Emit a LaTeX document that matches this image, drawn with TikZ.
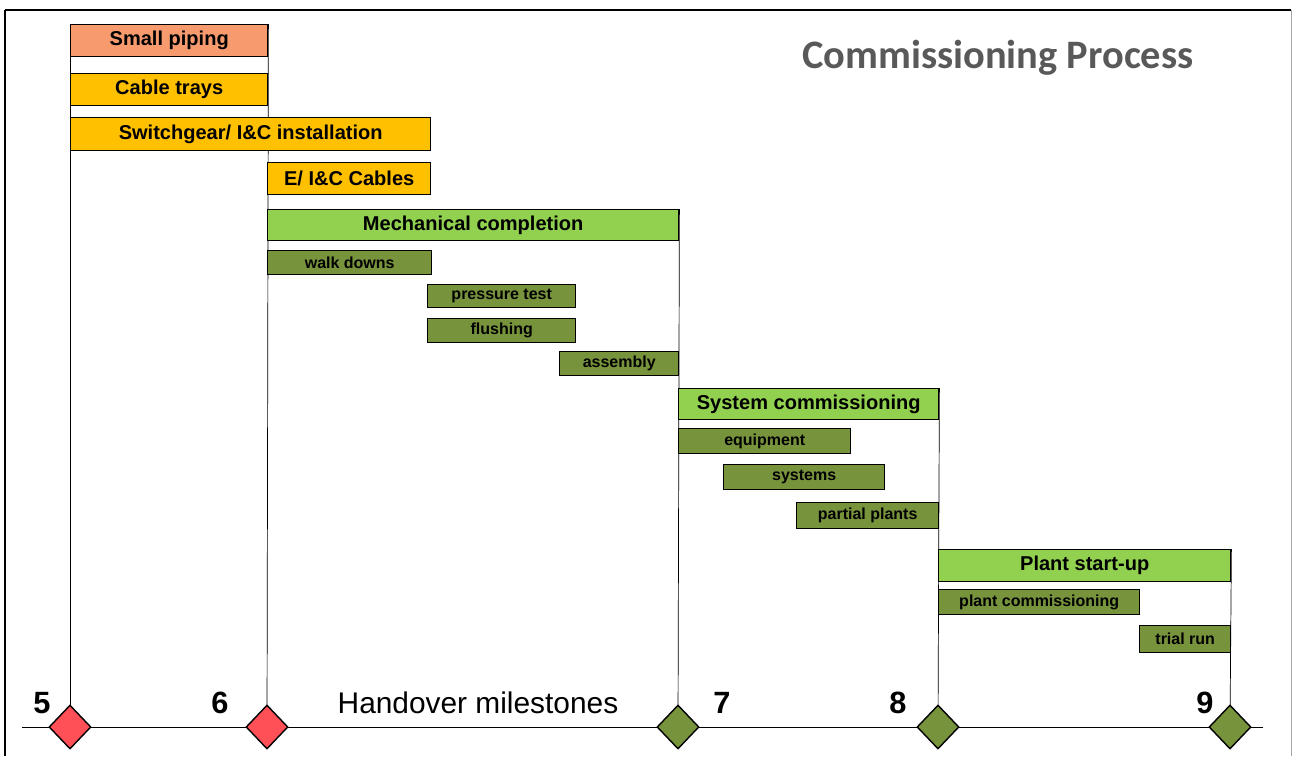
\documentclass[tikz,border=0pt]{standalone}
\usepackage{fontspec}
\setmainfont{Liberation Sans}
\newfontfamily\titlefont{Carlito}
\usetikzlibrary{shapes.geometric,backgrounds}
\definecolor{pipingsalmon}{HTML}{F79B6E}
\definecolor{cableorange}{HTML}{FFC000}
\definecolor{phasegreen}{HTML}{92D050}
\definecolor{taskolive}{HTML}{77933C}
\definecolor{milered}{HTML}{FF5058}
\definecolor{titlegray}{HTML}{595959}

\tikzset{
  bar/.style={draw=black, line width=0.8pt, anchor=north west, inner sep=0pt,
    font=\fontsize{11.4}{13}\selectfont\bfseries},
  install/.style={bar, fill=cableorange},
  phase/.style={bar, fill=phasegreen},
  task/.style={bar, fill=taskolive, font=\fontsize{9.1}{10}\selectfont\bfseries},
  milestone/.style={diamond, draw=black, line width=0.8pt, minimum width=0.84cm,
    minimum height=0.88cm, inner sep=0pt},
  mnum/.style={font=\fontsize{17.5}{20}\selectfont\bfseries},
}

\begin{document}
\begin{tikzpicture}
\useasboundingbox (0,0) rectangle (25.86,-15.12);
\draw[line width=1.4pt] (0.10,-0.20) -- (25.82,-0.20);
\draw[line width=0.9pt] (0.10,-0.20) -- (0.10,-15.12);
\draw[line width=0.4pt, gray!70] (25.82,-0.20) -- (25.82,-15.12);

\node[font=\titlefont\fontsize{23}{27}\selectfont\bfseries, text=titlegray] (title) at (19.96,-1.15) {Commissioning Process};

% installation work
\node[bar, fill=pipingsalmon, minimum width=3.94cm, minimum height=0.64cm] (piping) at (1.40,-0.48) {Small piping};
\node[install, minimum width=3.94cm, minimum height=0.64cm] (trays) at (1.40,-1.46) {Cable trays};
\node[install, minimum width=7.20cm, minimum height=0.66cm] (switch) at (1.40,-2.34) {Switchgear/ I\&C installation};
\node[install, minimum width=3.26cm, minimum height=0.64cm] (cables) at (5.34,-3.24) {E/ I\&C Cables};

% mechanical completion
\node[phase, minimum width=8.22cm, minimum height=0.62cm] (mech) at (5.34,-4.18) {Mechanical completion};
\node[task, minimum width=3.28cm, minimum height=0.48cm] (walk) at (5.34,-5.00) {walk downs};
\node[task, minimum width=2.96cm, minimum height=0.46cm] (pressure) at (8.54,-5.68) {pressure test};
\node[task, minimum width=2.96cm, minimum height=0.48cm] (flush) at (8.54,-6.36) {flushing};
\node[task, minimum width=2.38cm, minimum height=0.48cm] (assembly) at (11.18,-7.02) {assembly};

% system commissioning
\node[phase, minimum width=5.20cm, minimum height=0.62cm] (syscomm) at (13.56,-7.76) {System commissioning};
\node[task, minimum width=3.44cm, minimum height=0.50cm] (equip) at (13.56,-8.56) {equipment};
\node[task, minimum width=3.22cm, minimum height=0.50cm] (systems) at (14.46,-9.28) {systems};
\node[task, minimum width=2.84cm, minimum height=0.52cm] (partial) at (15.92,-10.04) {partial plants};

% plant start-up
\node[phase, minimum width=5.84cm, minimum height=0.64cm] (startup) at (18.76,-10.98) {Plant start-up};
\node[task, minimum width=4.02cm, minimum height=0.50cm] (plantcomm) at (18.76,-11.78) {plant commissioning};
\node[task, minimum width=1.82cm, minimum height=0.54cm] (trial) at (22.78,-12.50) {trial run};

% handover milestones
\node[milestone, fill=milered] (m5) at (1.40,-14.54) {};
\node[milestone, fill=milered] (m6) at (5.34,-14.54) {};
\node[milestone, fill=taskolive] (m7) at (13.56,-14.54) {};
\node[milestone, fill=taskolive] (m8) at (18.76,-14.54) {};
\node[milestone, fill=taskolive] (m9) at (24.60,-14.54) {};

\node[mnum] (n5) at (0.84,-14.06) {5};
\node[mnum] (n6) at (4.40,-14.06) {6};
\node[mnum] (n7) at (14.44,-14.06) {7};
\node[mnum] (n8) at (17.96,-14.06) {8};
\node[mnum] (n9) at (24.10,-14.06) {9};
\node[font=\fontsize{17}{20}\selectfont] (handover) at (9.56,-14.06) {Handover milestones};

\coordinate (axisL) at (0.44,-14.54);
\coordinate (axisR) at (25.26,-14.54);

\begin{scope}[on background layer, line width=1pt]
\draw (axisL) -- (axisR);
\draw (piping.north west) -- (m5.center);
\draw (piping.north east) -- (m6.center);
\draw (mech.north east) -- (m7.center);
\draw (syscomm.north east) -- (m8.center);
\draw (startup.north east) -- (m9.center);
\end{scope}
\end{tikzpicture}
\end{document}
